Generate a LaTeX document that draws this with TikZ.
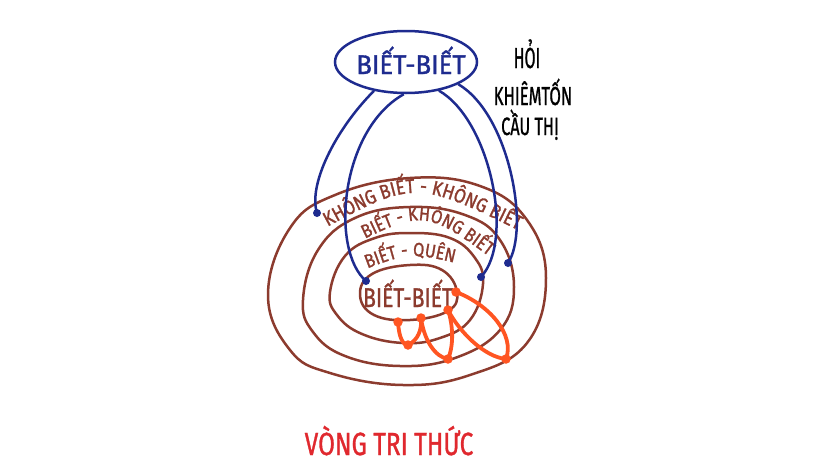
\documentclass[tikz,border=0pt]{standalone}
\usepackage{fontspec}
\newfontfamily\hand[FakeBold=1.2]{Fira Sans}
\newfontfamily\handc[FakeBold=1.2,FakeStretch=0.86]{Fira Sans}
\usetikzlibrary{shapes.geometric,decorations.text}
\definecolor{navyc}{HTML}{1E2B8F}
\definecolor{brownc}{HTML}{8C3B2E}
\definecolor{orangec}{HTML}{FF5522}
\definecolor{redc}{HTML}{E0282E}
\tikzset{
  ring/.style={draw=brownc,line width=2.5pt},
  bluecurve/.style={draw=navyc,line width=2.5pt},
  orcurve/.style={draw=orangec,line width=3.8pt,line cap=round},
  bdot/.style={circle,fill=navyc,inner sep=0pt,minimum size=8pt},
  odot/.style={circle,fill=orangec,inner sep=0pt,minimum size=9.5pt},
  lbl/.style={anchor=base,inner sep=0pt},
}
\begin{document}
\begin{tikzpicture}[x=1pt,y=-1pt]
\useasboundingbox[fill=white] (0,0) rectangle (828,466);
% rings
\draw[ring] plot[smooth cycle,tension=0.7] coordinates {(268,295) (290,228) (335,195) (410,178) (480,186) (527,220) (546,278) (527,343) (470,375) (403,385) (330,373) (290,350)};
\draw[ring] plot[smooth cycle,tension=0.7] coordinates {(303,300) (318,250) (355,218) (410,207) (465,215) (500,240) (514,287) (500,330) (455,358) (400,366) (345,356) (313,332)};
\draw[ring] plot[smooth cycle,tension=0.7] coordinates {(330,292) (345,256) (375,238) (410,233) (450,238) (475,258) (483,284) (470,320) (440,338) (403,343) (362,334) (337,315)};
\draw[ring] plot[smooth cycle,tension=0.7] coordinates {(360,295) (372,274) (410,265) (442,270) (457,292) (448,311) (410,320) (374,315)};
% ring labels
\path[decorate,decoration={text along path,text align=center,
  text={|\handc\fontsize{20}{20}\selectfont\color{brownc}|KHÔNG BIẾT - KHÔNG BIẾT}}]
  (316,233) .. controls (415,179) .. (530,236);
\path[decorate,decoration={text along path,text align=center,
  text={|\handc\fontsize{19}{19}\selectfont\color{brownc}|BIẾT - KHÔNG BIẾT}}]
  (350,246) .. controls (425,209) .. (502,266);
\path[decorate,decoration={text along path,text align=center,
  text={|\handc\fontsize{19}{19}\selectfont\color{brownc}|BIẾT - QUÊN}}]
  (358,272) .. controls (410,252) .. (464,265);
\node[lbl,text=brownc,font=\hand\fontsize{27}{27}\selectfont] (inner) at (408,307) {\scalebox{0.78}[1]{BIẾT-BIẾT}};
% top ellipse
\node[ellipse,draw=navyc,line width=2.5pt,minimum width=142pt,minimum height=62pt,inner sep=0pt] (top) at (406,62) {};
\node[lbl,text=navyc,font=\hand\fontsize{27}{27}\selectfont] (toptext) at (411,74) {\scalebox{0.95}[1]{BIẾT-BIẾT}};
% side text
\node[lbl,font=\hand\fontsize{29}{29}\selectfont] (hoi) at (527,68) {\scalebox{0.55}[1]{HỎI}};
\node[lbl,font=\hand\fontsize{26}{26}\selectfont] (khiem) at (533,105) {\scalebox{0.64}[1]{KHIÊMTỐN}};
\node[lbl,font=\hand\fontsize{25}{25}\selectfont] (cau) at (530,135) {\scalebox{0.65}[1]{CẦU THỊ}};
% bottom title
\node[lbl,text=redc,font=\hand\fontsize{32}{32}\selectfont] (title) at (389,455) {\scalebox{0.76}[1]{VÒNG TRI THỨC}};
% blue dots
\node[bdot] (d1) at (317,213) {};
\node[bdot] (d2) at (366,281) {};
\node[bdot] (d3) at (481,277) {};
\node[bdot] (d4) at (508,263) {};
% blue curves
\draw[bluecurve] (top.222) .. controls (335,130) and (308,185) .. (d1.center);
\draw[bluecurve] (top.266) .. controls (340,130) and (330,250) .. (d2.center);
\draw[bluecurve] (top.319) .. controls (490,120) and (515,240) .. (d3.center);
\draw[bluecurve] (top.337) .. controls (510,115) and (530,230) .. (d4.center);
% orange dots
\node[odot] (oa) at (398,322) {};
\node[odot] (ob) at (421,318) {};
\node[odot] (oc) at (448,310) {};
\node[odot] (od) at (456,292) {};
\node[odot] (oe) at (408,345) {};
\node[odot] (of) at (448,359) {};
\node[odot] (og) at (506,359) {};
% orange curves
\draw[orcurve] (oa.center) .. controls (399,338) and (403,345) .. (oe.center);
\draw[orcurve] (oe.center) .. controls (418,340) and (422,330) .. (ob.center);
\draw[orcurve] (ob.center) .. controls (424,340) and (435,357) .. (of.center);
\draw[orcurve] (of.center) .. controls (454,345) and (453,325) .. (oc.center);
\draw[orcurve] (oc.center) .. controls (460,333) and (485,357) .. (og.center);
\draw[orcurve] (od.center) .. controls (490,305) and (515,335) .. (og.center);
\end{tikzpicture}
\end{document}
